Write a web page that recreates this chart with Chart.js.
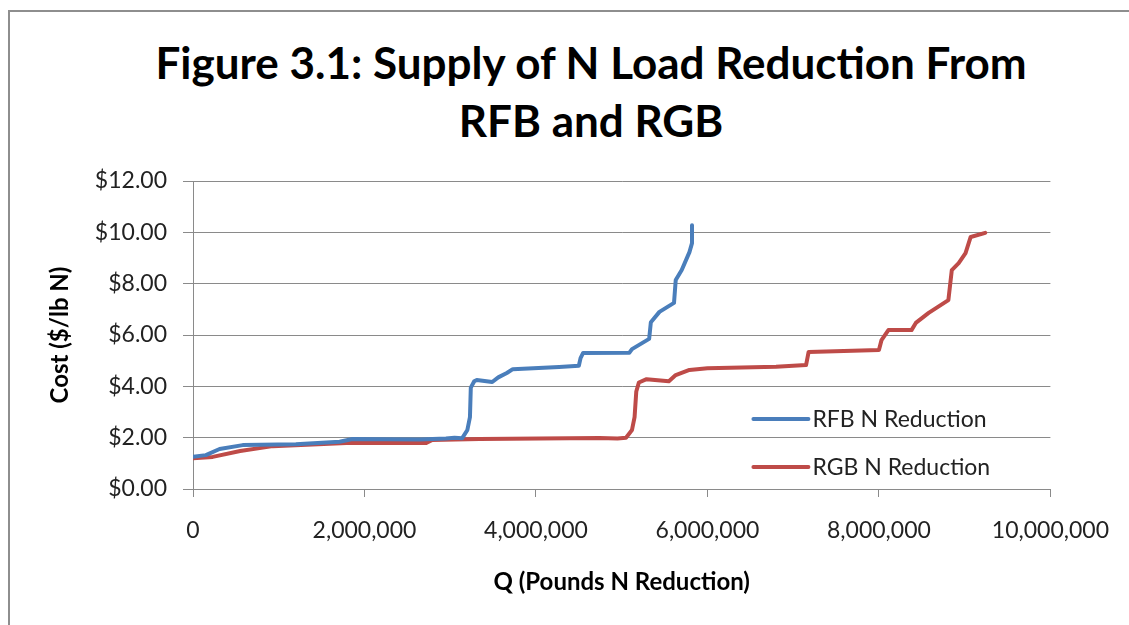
<!DOCTYPE html>
<html>
<head>
<meta charset="utf-8">
<title>Figure 3.1</title>
<script src="https://cdn.jsdelivr.net/npm/chart.js@4.4.1/dist/chart.umd.min.js"></script>
<style>
    html, body { margin: 0; padding: 0; background: #fff; overflow: hidden; }
    #frame { position: absolute; left: 8px; top: 10px; width: 1121px; height: 615px;
             border-left: 2px solid #8e8e8e; border-top: 2px solid #8e8e8e; box-sizing: border-box; }
    #wrap { position: absolute; left: 0; top: 0; width: 1129px; height: 625px; }
    #title { position: absolute; left: 91px; top: 33px; width: 1000px; text-align: center;
             font: bold 44px/58px Lato, "Open Sans", sans-serif; color: #000; }
</style>
</head>
<body>
<div id="frame"></div>
<div id="title">Figure 3.1: Supply of N Load Reduction From<br>RFB and RGB</div>
<div id="wrap"><canvas id="supplyChart"></canvas></div>
<script>
// RFB supply curve (pounds N reduced, $/lb N)
const rfbQty = [0, 150000, 310000, 580000, 1200000, 1710000, 1860000, 2640000, 2950000, 3050000,
    3140000, 3200000, 3230000, 3240000, 3280000, 3310000, 3490000, 3560000, 3660000, 3730000,
    4270000, 4500000, 4520000, 4550000, 5090000, 5120000, 5320000, 5340000, 5440000, 5610000,
    5630000, 5700000, 5790000, 5820000, 5820000];
const rfbCost = [1.26, 1.32, 1.56, 1.71, 1.74, 1.84, 1.95, 1.93, 1.97, 2.00,
    1.98, 2.30, 2.80, 3.95, 4.20, 4.25, 4.17, 4.35, 4.52, 4.67,
    4.75, 4.80, 5.10, 5.30, 5.31, 5.45, 5.85, 6.50, 6.90, 7.25,
    8.14, 8.53, 9.23, 9.58, 10.28];

// RGB supply curve
const rgbQty = [0, 230000, 550000, 930000, 1790000, 2720000, 2790000, 3340000, 4740000, 4950000,
    5050000, 5120000, 5150000, 5170000, 5200000, 5290000, 5550000, 5630000, 5790000, 6000000,
    6800000, 7150000, 7180000, 8000000, 8030000, 8110000, 8380000, 8430000, 8580000, 8810000,
    8850000, 8930000, 9010000, 9070000, 9240000];
const rgbCost = [1.20, 1.25, 1.48, 1.67, 1.79, 1.79, 1.91, 1.95, 1.99, 1.97,
    2.00, 2.30, 2.80, 3.80, 4.15, 4.28, 4.20, 4.44, 4.64, 4.70,
    4.76, 4.83, 5.34, 5.42, 5.80, 6.19, 6.19, 6.47, 6.86, 7.36,
    8.53, 8.80, 9.19, 9.82, 9.98];

const seriesNames = ['RFB N Reduction', 'RGB N Reduction'];
const seriesColors = ['#4a7ebb', '#be4b48'];
const yTicks = [0, 2, 4, 6, 8, 10, 12];
const xTicks = [0, 2000000, 4000000, 6000000, 8000000, 10000000];

const FONT = 'Lato, "Open Sans", sans-serif';
const GRID = '#8a8a8a';

const toPoints = (qs, cs) => qs.map((q, i) => ({ x: q, y: cs[i] }));

// legend drawn inside the plot, bottom right, like the original
const insideLegend = {
    id: 'insideLegend',
    afterDatasetsDraw(chart) {
        const { ctx, chartArea } = chart;
        ctx.save();
        ctx.font = '23px ' + FONT;
        ctx.textBaseline = 'middle';
        ctx.textAlign = 'left';
        chart.data.datasets.forEach((ds, i) => {
            const y = chartArea.bottom - 70 + i * 48;
            const x0 = chartArea.right - 297;
            ctx.strokeStyle = ds.borderColor;
            ctx.lineWidth = 4;
            ctx.lineCap = 'round';
            ctx.beginPath();
            ctx.moveTo(x0, y);
            ctx.lineTo(x0 + 55, y);
            ctx.stroke();
            ctx.fillStyle = '#222';
            ctx.fillText(ds.label, x0 + 59, y + 1);
        });
        ctx.restore();
    }
};

const ctx = document.getElementById('supplyChart').getContext('2d');
new Chart(ctx, {
    type: 'scatter',
    data: {
        datasets: [
            { label: seriesNames[0], data: toPoints(rfbQty, rfbCost), borderColor: seriesColors[0] },
            { label: seriesNames[1], data: toPoints(rgbQty, rgbCost), borderColor: seriesColors[1] }
        ].map(ds => Object.assign(ds, {
            showLine: true, pointRadius: 0, borderWidth: 4, tension: 0,
            borderJoinStyle: 'round', borderCapStyle: 'round', fill: false
        }))
    },
    options: {
        responsive: true,
        maintainAspectRatio: false,
        animation: false,
        layout: { padding: { left: 0, right: 77, top: 181, bottom: 0 } },
        plugins: {
            legend: { display: false },
            tooltip: { enabled: false }
        },
        scales: {
            x: {
                type: 'linear',
                min: 0, max: 10000000,
                afterBuildTicks: axis => { axis.ticks = xTicks.map(v => ({ value: v })); },
                afterFit: axis => { axis.height = 136; },
                ticks: {
                    color: '#222',
                    font: { family: FONT, size: 23 },
                    padding: 20,
                    maxRotation: 0,
                    callback: v => v.toLocaleString('en-US')
                },
                grid: { drawOnChartArea: false, drawTicks: true, tickLength: 8, color: GRID },
                border: { color: GRID, width: 1 },
                title: {
                    display: true,
                    text: 'Q (Pounds N Reduction)',
                    color: '#000',
                    font: { family: FONT, size: 24, weight: 'bold' },
                    padding: { top: 0, bottom: 28 }
                }
            },
            y: {
                min: 0, max: 12,
                afterBuildTicks: axis => { axis.ticks = yTicks.map(v => ({ value: v })); },
                afterFit: axis => { axis.width = 193; },
                ticks: {
                    color: '#222',
                    font: { family: FONT, size: 23 },
                    padding: 16,
                    callback: v => '$' + Number(v).toFixed(2)
                },
                grid: { color: GRID, tickLength: 10 },
                border: { color: GRID, width: 1 },
                title: {
                    display: true,
                    text: 'Cost ($/lb N)',
                    color: '#000',
                    font: { family: FONT, size: 24, weight: 'bold' },
                    padding: { top: 46, bottom: 0 }
                }
            }
        }
    },
    plugins: [insideLegend]
});
</script>
</body>
</html>
